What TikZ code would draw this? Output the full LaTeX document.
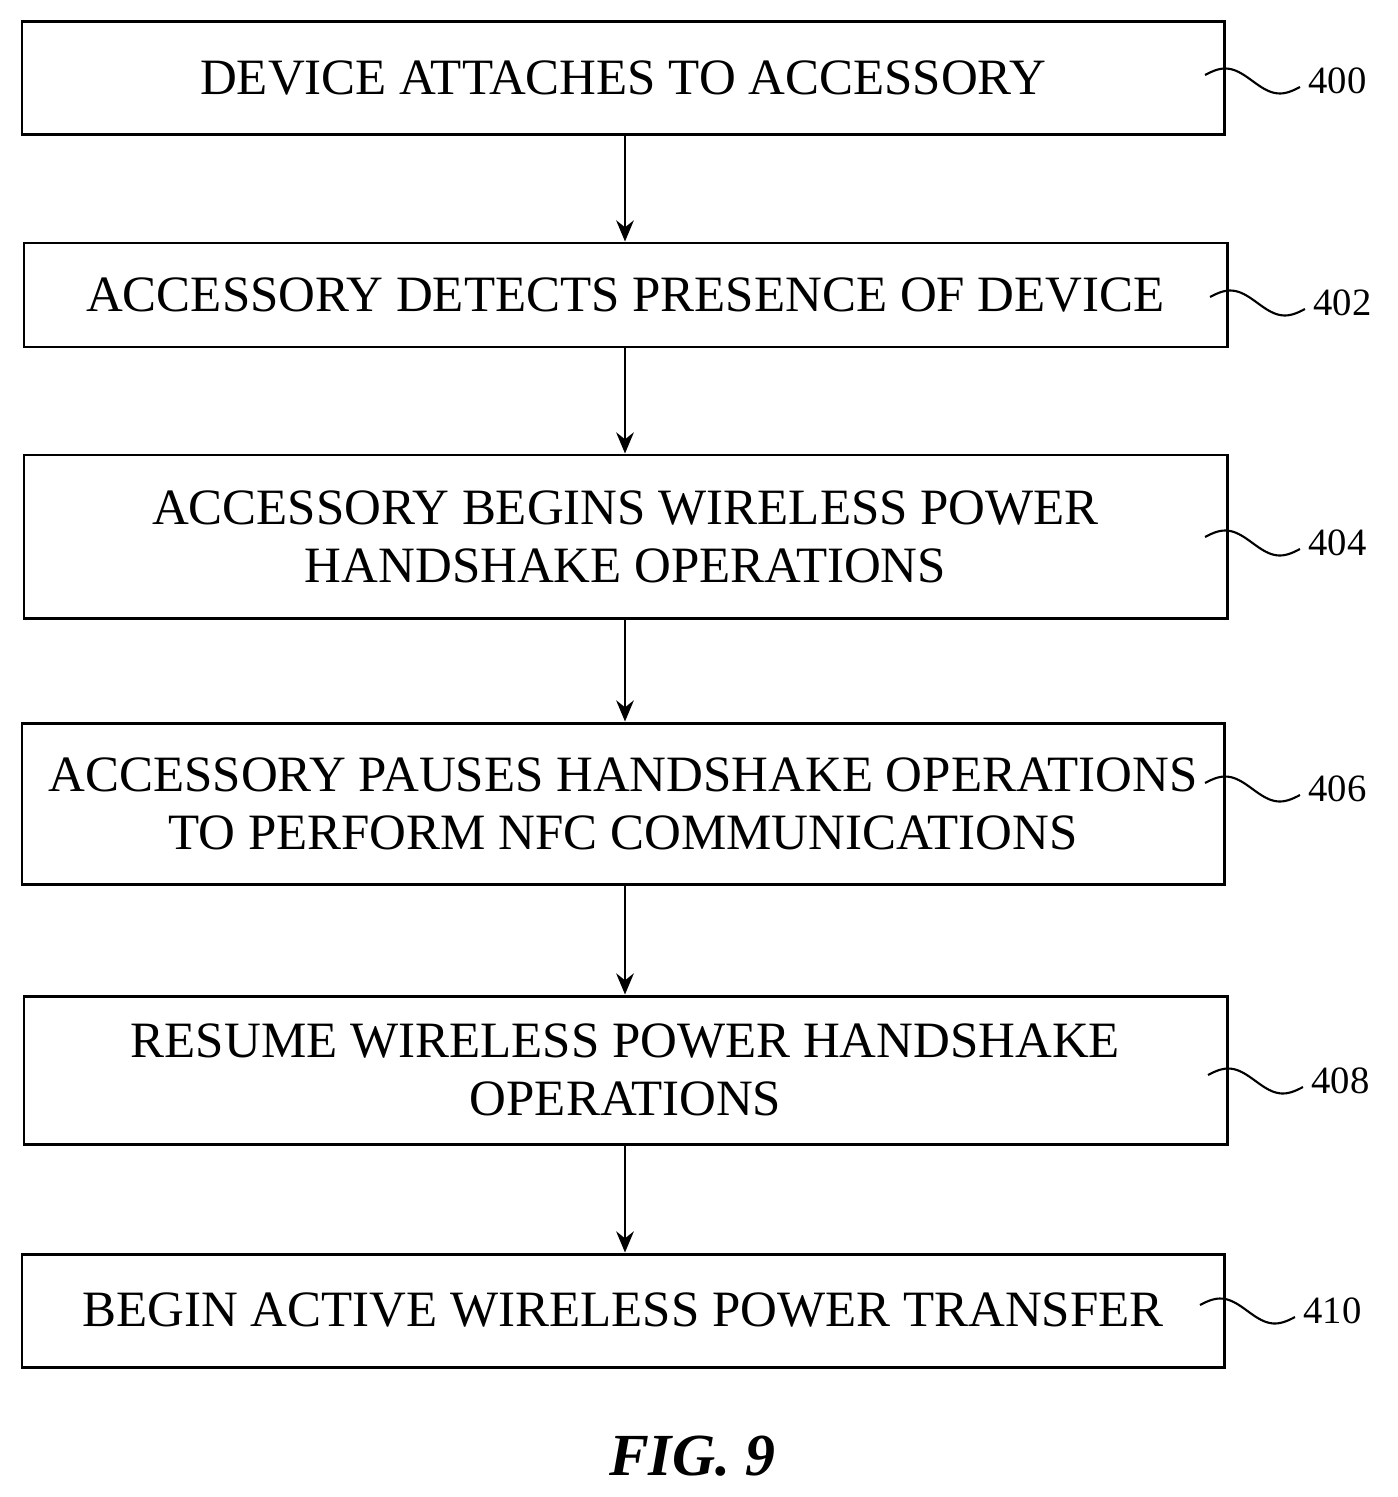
\documentclass[tikz,border=0pt]{standalone}
\usetikzlibrary{arrows.meta}
\usepackage{fontspec}
\setmainfont{Liberation Serif}
\begin{document}
\begin{tikzpicture}[x=0.02cm,y=-0.02cm,
  box/.style={draw,line width=1.7pt,inner sep=0pt,font=\fontsize{29}{33}\selectfont,align=center},
  arr/.style={line width=1.5pt,-{Stealth[length=12pt,width=10pt]}},
  lab/.style={font=\fontsize{22}{26}\selectfont,anchor=west,inner sep=0pt},
  sq/.style={line width=1.2pt}]
\useasboundingbox (0,0) rectangle (1398,1497);
\node[box,minimum width=1202*0.02cm,minimum height=113*0.02cm] (b400) at (623,78) {DEVICE ATTACHES TO ACCESSORY};
\node[box,minimum width=1203*0.02cm,minimum height=104*0.02cm] (b402) at (625.5,295) {ACCESSORY DETECTS PRESENCE OF DEVICE};
\node[box,minimum width=1203*0.02cm,minimum height=163*0.02cm] (b404) at (625.5,536.5) {ACCESSORY BEGINS WIRELESS POWER\\HANDSHAKE OPERATIONS};
\node[box,minimum width=1202*0.02cm,minimum height=161*0.02cm] (b406) at (623,803.5) {ACCESSORY PAUSES HANDSHAKE OPERATIONS\\TO PERFORM NFC COMMUNICATIONS};
\node[box,minimum width=1203*0.02cm,minimum height=148*0.02cm] (b408) at (625.5,1070) {RESUME WIRELESS POWER HANDSHAKE\\OPERATIONS};
\node[box,minimum width=1202*0.02cm,minimum height=113*0.02cm] (b410) at (623,1310.5) {BEGIN ACTIVE WIRELESS POWER TRANSFER};
\foreach \a/\b in {b400/b402,b402/b404,b404/b406,b406/b408,b408/b410}
  \draw[arr] (\a.south -| 625,0) -- (\b.north -| 625,0);
\foreach \n/\px/\py in {400/1205/75,402/1210/297,404/1205/537,406/1205/783,408/1208/1075,410/1200/1305}{
  \draw[sq] plot[domain=0:1,samples=40,smooth] ({\px+95*\x}, {\py+6-6*cos(180*\x)-8*sin(360*\x)});
  \node[lab] (l\n) at (\px+103,\py+6) {\n};
}
\node[font=\bfseries\itshape\fontsize{34}{40}\selectfont] (fig) at (692,1456) {FIG. 9};
\end{tikzpicture}
\end{document}
